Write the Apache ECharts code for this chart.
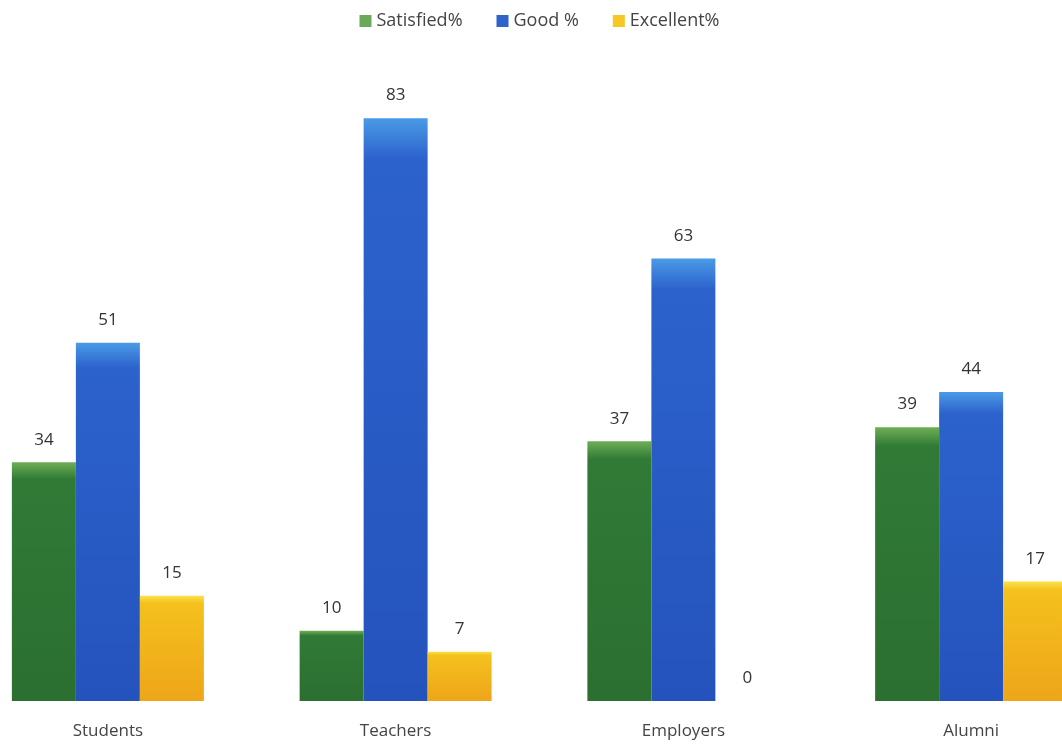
<!DOCTYPE html>
<html>
<head>
<meta charset="utf-8">
<script src="https://cdn.jsdelivr.net/npm/echarts@6/dist/echarts.min.js"></script>
<style>
  html, body { margin: 0; padding: 0; background: #fff; overflow: hidden; }
  /* the original picture is cropped at both sides, so the chart runs past the window */
  #chart { width: 1151px; height: 744px; margin-left: -36px; }
</style>
</head>
<body>
<div id="chart"></div>
<script>
// data
const categories = ['Students', 'Teachers', 'Employers', 'Alumni']
const satisfied = [34, 10, 37, 39]
const good = [51, 83, 63, 44]
const excellent = [15, 7, 0, 17]

const font = 'Open Sans'

// vertical shading so the bars look a bit like the bevelled excel bars
const shade = (top, mid, bottom) => new echarts.graphic.LinearGradient(0, 0, 0, 1, [
  { offset: 0, color: top },
  { offset: 0.07, color: mid },
  { offset: 1, color: bottom }
])

const makeSeries = (name, data, color) => ({
  name: name,
  type: 'bar',
  barWidth: 64,
  barGap: '0%',
  data: data,
  itemStyle: { color: color },
  label: {
    show: true,
    position: 'top',
    distance: 14,
    color: '#333',
    fontFamily: font,
    fontSize: 17
  }
})

const chart = echarts.init(document.getElementById('chart'))

chart.setOption({
  animation: false,
  legend: {
    top: 7,
    left: 'center',
    itemWidth: 12,
    itemHeight: 12,
    itemGap: 34,
    icon: 'rect',
    textStyle: { fontFamily: font, fontSize: 18, color: '#444' },
    data: [
      { name: 'Satisfied%', itemStyle: { color: '#6aa85a' } },
      { name: 'Good %', itemStyle: { color: '#2f63cc' } },
      { name: 'Excellent%', itemStyle: { color: '#f5c823' } }
    ]
  },
  grid: {
    left: 0,
    right: 0,
    top: 69,
    bottom: 43
  },
  xAxis: {
    type: 'category',
    data: categories,
    axisLine: { show: false },
    axisTick: { show: false },
    axisLabel: {
      margin: 22,
      fontFamily: font,
      fontSize: 17,
      color: '#444'
    }
  },
  yAxis: {
    type: 'value',
    min: 0,
    max: 90,
    show: false,
    splitLine: { show: false }
  },
  series: [
    makeSeries('Satisfied%', satisfied, shade('#6fae55', '#307a36', '#2b6f31')),
    makeSeries('Good %', good, shade('#4a9ae6', '#2c62cc', '#2553bd')),
    makeSeries('Excellent%', excellent, shade('#fbe24a', '#f4c11d', '#eea51a'))
  ]
})
</script>
</body>
</html>
